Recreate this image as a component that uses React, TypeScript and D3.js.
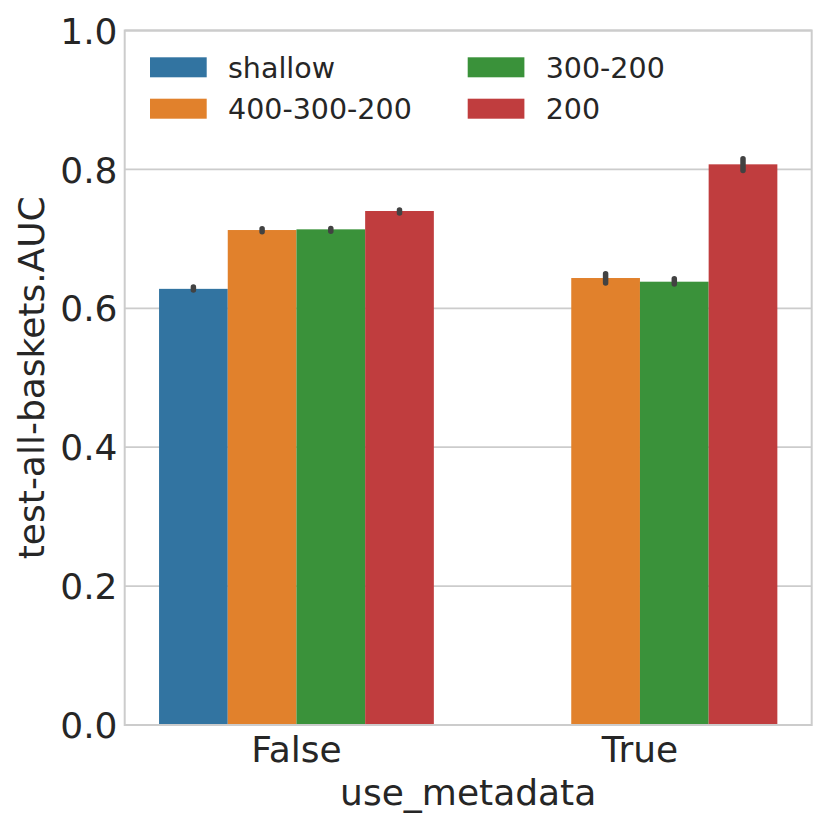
import React from "react";
import * as d3 from "d3";

const categories = ["False", "True"];
const hues = ["shallow", "400-300-200", "300-200", "200"];
const colors = ["#3274A1", "#E1812C", "#3A923A", "#C03D3E"];
// values per hue, per category (null = missing)
const meanShallow = [0.628, null];
const mean400 = [0.7127, 0.6436];
const mean300 = [0.7137, 0.6383];
const mean200 = [0.7401, 0.8073];
const loShallow = [0.6263, null];
const hiShallow = [0.6307, null];
const lo400 = [0.7104, 0.6364];
const hi400 = [0.7146, 0.6497];
const lo300 = [0.7109, 0.635];
const hi300 = [0.715, 0.6426];
const lo200 = [0.7372, 0.7983];
const hi200 = [0.7415, 0.8153];
const yTicks = [0.0, 0.2, 0.4, 0.6, 0.8, 1.0];

const means = [meanShallow, mean400, mean300, mean200];
const los = [loShallow, lo400, lo300, lo200];
const his = [hiShallow, hi400, hi300, hi200];

export default function App() {
  const W = 830, H = 830;
  const left = 124.7, right = 811.7, top = 30.5, bottom = 725;
  const x = d3.scaleBand<string>().domain(categories).range([left, right]).paddingInner(0).paddingOuter(0);
  const y = d3.scaleLinear().domain([0, 1]).range([bottom, top]);
  const groupW = x.bandwidth() * 0.8;
  const xh = d3.scaleBand<string>().domain(hues).range([0, groupW]);
  const textColor = "#262626";
  const font = "'DejaVu Sans', sans-serif";

  const bars: any[] = [];
  const errs: any[] = [];
  hues.forEach((h, hi) => {
    categories.forEach((c, ci) => {
      const v = means[hi][ci];
      if (v == null) return;
      const x0 = (x(c) as number) + (x.bandwidth() - groupW) / 2 + (xh(h) as number);
      bars.push(
        <rect key={`b-${h}-${c}`} x={x0} y={y(v)} width={xh.bandwidth()} height={y(0) - y(v)} fill={colors[hi]} />
      );
      const cx = x0 + xh.bandwidth() / 2;
      errs.push(
        <line key={`e-${h}-${c}`} x1={cx} x2={cx} y1={y(los[hi][ci] as number)} y2={y(his[hi][ci] as number)}
          stroke="#424242" strokeWidth={5.5} strokeLinecap="round" />
      );
    });
  });

  const legendPos = [
    { x: 150, y: 67.3 },
    { x: 150, y: 108.7 },
    { x: 467.7, y: 67.3 },
    { x: 467.7, y: 108.7 },
  ];

  return (
    <svg width={W} height={H} style={{ position: "absolute", left: 0, top: 0, background: "#fff" }}
      fontFamily={font}>
      <rect x={0} y={0} width={W} height={H} fill="#fff" />
      {yTicks.map((t) => (
        <line key={`g${t}`} x1={left} x2={right} y1={y(t)} y2={y(t)} stroke="#cccccc" strokeWidth={1.8} />
      ))}
      {bars}
      {errs}
      <rect x={left} y={top} width={right - left} height={bottom - top} fill="none" stroke="#cccccc" strokeWidth={2} />
      {yTicks.map((t) => (
        <text key={`yt${t}`} x={117.5} y={y(t) + 13.1} textAnchor="end" fontSize={36} fill={textColor}>
          {t.toFixed(1)}
        </text>
      ))}
      {categories.map((c) => (
        <text key={`xt${c}`} x={(x(c) as number) + x.bandwidth() / 2} y={762} textAnchor="middle" fontSize={36} fill={textColor}>
          {c}
        </text>
      ))}
      <text x={(left + right) / 2} y={805} textAnchor="middle" fontSize={36} fill={textColor}>use_metadata</text>
      <text transform={`translate(44,${(top + bottom) / 2}) rotate(-90)`} textAnchor="middle" fontSize={36} fill={textColor}>
        test-all-baskets.AUC
      </text>
      {hues.map((h, i) => (
        <g key={`lg${h}`}>
          <rect x={legendPos[i].x} y={legendPos[i].y - 10} width={56.7} height={20} fill={colors[i]} />
          <text x={legendPos[i].x + 78} y={legendPos[i].y + 10.3} fontSize={28.5} fill={textColor}>{h}</text>
        </g>
      ))}
    </svg>
  );
}
